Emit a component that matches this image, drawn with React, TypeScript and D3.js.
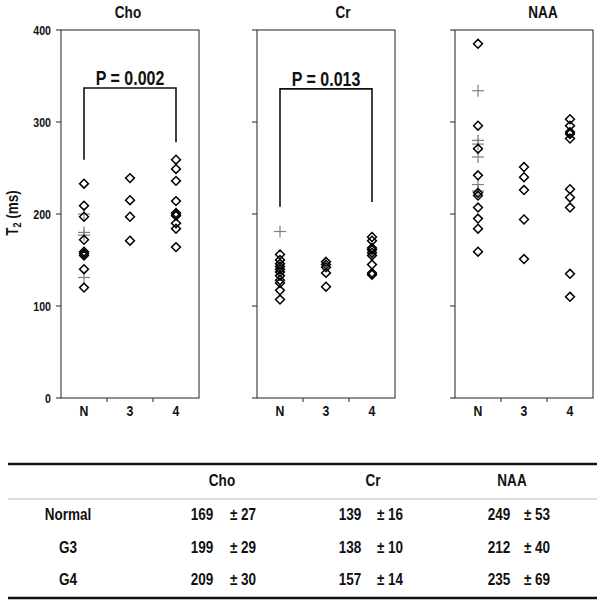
import React from "react";
import * as d3 from "d3";

const groups = ["N", "3", "4"];
const panelNames = ["Cho", "Cr", "NAA"];
const yTicks = [0, 100, 200, 300, 400];

// diamonds per panel per group
const choN = [233, 209, 197, 172, 159, 157, 155, 140, 120];
const cho3 = [239, 215, 197, 171];
const cho4 = [259, 249, 236, 214, 201, 199, 198, 190, 184, 164];
const crN = [156, 150, 146, 143, 140, 137, 133, 128, 125, 117, 107];
const cr3 = [148, 145, 142, 136, 121];
const cr4 = [175, 171, 163, 161, 158, 155, 145, 136, 134];
const naaN = [385, 296, 271, 242, 223, 220, 207, 195, 184, 159];
const naa3 = [251, 240, 226, 194, 151];
const naa4 = [303, 296, 289, 287, 282, 227, 218, 207, 135, 110];

// plus markers (normal group)
const choNPlus = [200, 180, 177, 131];
const crNPlus = [181];
const naaNPlus = [334, 280, 276, 262, 232, 225];

// significance brackets: [top, left leg end, right leg end]
const bracketLabels = ["P = 0.002", "P = 0.013", ""];
const bracketTop = [337, 336, 0];
const bracketLeftEnd = [259, 208, 0];
const bracketRightEnd = [278, 213, 0];

// table
const tableRows = ["Normal", "G3", "G4"];
const tableMeans = [
  [169, 139, 249],
  [199, 138, 212],
  [209, 157, 235],
];
const tableSDs = [
  [27, 16, 53],
  [29, 10, 40],
  [30, 14, 69],
];

const diamonds = [
  [choN, cho3, cho4],
  [crN, cr3, cr4],
  [naaN, naa3, naa4],
];
const pluses = [choNPlus, crNPlus, naaNPlus];

const FONT = "'Liberation Sans', Arial, sans-serif";
const SX = 0.82;

function NText(props: {
  x: number;
  y: number;
  size: number;
  anchor?: string;
  rotate?: number;
  children: React.ReactNode;
}) {
  const { x, y, size, anchor = "middle", rotate = 0, children } = props;
  return (
    <text
      transform={`translate(${x},${y}) rotate(${rotate}) scale(${SX},1)`}
      textAnchor={anchor}
      fontFamily={FONT}
      fontWeight="bold"
      fontSize={size}
      fill="#111"
    >
      {children}
    </text>
  );
}

export default function App() {
  const W = 602;
  const H = 604;
  const panelLeft = [61, 257, 455];
  const panelW = 138;
  const top = 30;
  const bottom = 398;
  const titleOffset = [-2, 17, 19];

  const y = d3.scaleLinear().domain([0, 400]).range([bottom, top]);
  const diamondPath = d3.symbol(d3.symbolDiamond2, 50)() as string;

  const panels = panelNames.map((name, pi) => {
    const x = d3
      .scaleBand()
      .domain(groups)
      .range([panelLeft[pi], panelLeft[pi] + panelW]);
    const cx = (g: string) => (x(g) as number) + x.bandwidth() / 2;
    const left = panelLeft[pi];
    const right = left + panelW;
    return (
      <g key={name}>
        <NText x={(left + right) / 2 + titleOffset[pi]} y={18} size={16.5}>
          {name}
        </NText>
        <rect
          x={left}
          y={top}
          width={panelW}
          height={bottom - top}
          fill="none"
          stroke="#222"
          strokeWidth={1}
        />
        {yTicks.map((t) => (
          <g key={t}>
            <line x1={left - 5} x2={left} y1={y(t)} y2={y(t)} stroke="#222" />
            {pi === 0 && (
              <NText x={left - 10} y={y(t) + 4.5} size={13} anchor="end">
                {t}
              </NText>
            )}
          </g>
        ))}
        {groups.slice(1).map((g) => (
          <line
            key={g}
            x1={x(g) as number}
            x2={x(g) as number}
            y1={bottom}
            y2={bottom + 4}
            stroke="#222"
          />
        ))}
        {groups.map((g) => (
          <NText key={g} x={cx(g)} y={416} size={15}>
            {g}
          </NText>
        ))}
        {bracketLabels[pi] && (
          <g>
            <path
              d={`M${cx("N")},${y(bracketLeftEnd[pi])}V${y(bracketTop[pi])}H${cx("4")}V${y(
                bracketRightEnd[pi]
              )}`}
              fill="none"
              stroke="#111"
              strokeWidth={1.6}
            />
            <NText x={(cx("N") + cx("4")) / 2} y={y(bracketTop[pi]) - 3} size={19.5}>
              {bracketLabels[pi]}
            </NText>
          </g>
        )}
        {pluses[pi].map((v, i) => (
          <g key={"p" + i} transform={`translate(${cx("N")},${y(v)})`}>
            <line x1={-6} x2={6} y1={0} y2={0} stroke="#808080" strokeWidth={1.2} />
            <line x1={0} x2={0} y1={-6} y2={6} stroke="#808080" strokeWidth={1.2} />
          </g>
        ))}
        {groups.map((g, gi) =>
          diamonds[pi][gi].map((v, i) => (
            <path
              key={g + i}
              d={diamondPath}
              transform={`translate(${cx(g)},${y(v)})`}
              fill="none"
              stroke="#000"
              strokeWidth={1.5}
            />
          ))
        )}
      </g>
    );
  });

  // table layout
  const meanX = [202, 350, 499];
  const sdX = [243, 390, 537];
  const headerX = [222, 373, 512];
  const rowY = [520, 553, 585];

  return (
    <svg
      width={W}
      height={H}
      style={{ position: "absolute", left: 0, top: 0, background: "#fff" }}
    >
      <rect width={W} height={H} fill="#fff" />
      <text
        transform={`translate(18,213) rotate(-90) scale(${SX},1)`}
        textAnchor="middle"
        fontFamily={FONT}
        fontWeight="bold"
        fontSize={16.5}
        fill="#111"
      >
        T
        <tspan fontSize={11} dy={3}>
          2
        </tspan>
        <tspan dy={-3}> (ms)</tspan>
      </text>
      {panels}

      <line x1={8} x2={597} y1={464} y2={464} stroke="#111" strokeWidth={2.4} />
      <line x1={8} x2={597} y1={499} y2={499} stroke="#bbb" strokeWidth={1.2} />
      <line x1={8} x2={597} y1={598} y2={598} stroke="#111" strokeWidth={2.4} />
      {panelNames.map((n, i) => (
        <NText key={n} x={headerX[i]} y={486} size={16.5}>
          {n}
        </NText>
      ))}
      {tableRows.map((r, ri) => (
        <g key={r}>
          <NText x={68} y={rowY[ri]} size={16.5}>
            {r}
          </NText>
          {tableMeans[ri].map((m, ci) => (
            <g key={ci}>
              <NText x={meanX[ci]} y={rowY[ri]} size={16.5}>
                {m}
              </NText>
              <NText x={sdX[ci]} y={rowY[ri]} size={16.5}>
                {"± " + tableSDs[ri][ci]}
              </NText>
            </g>
          ))}
        </g>
      ))}
    </svg>
  );
}
